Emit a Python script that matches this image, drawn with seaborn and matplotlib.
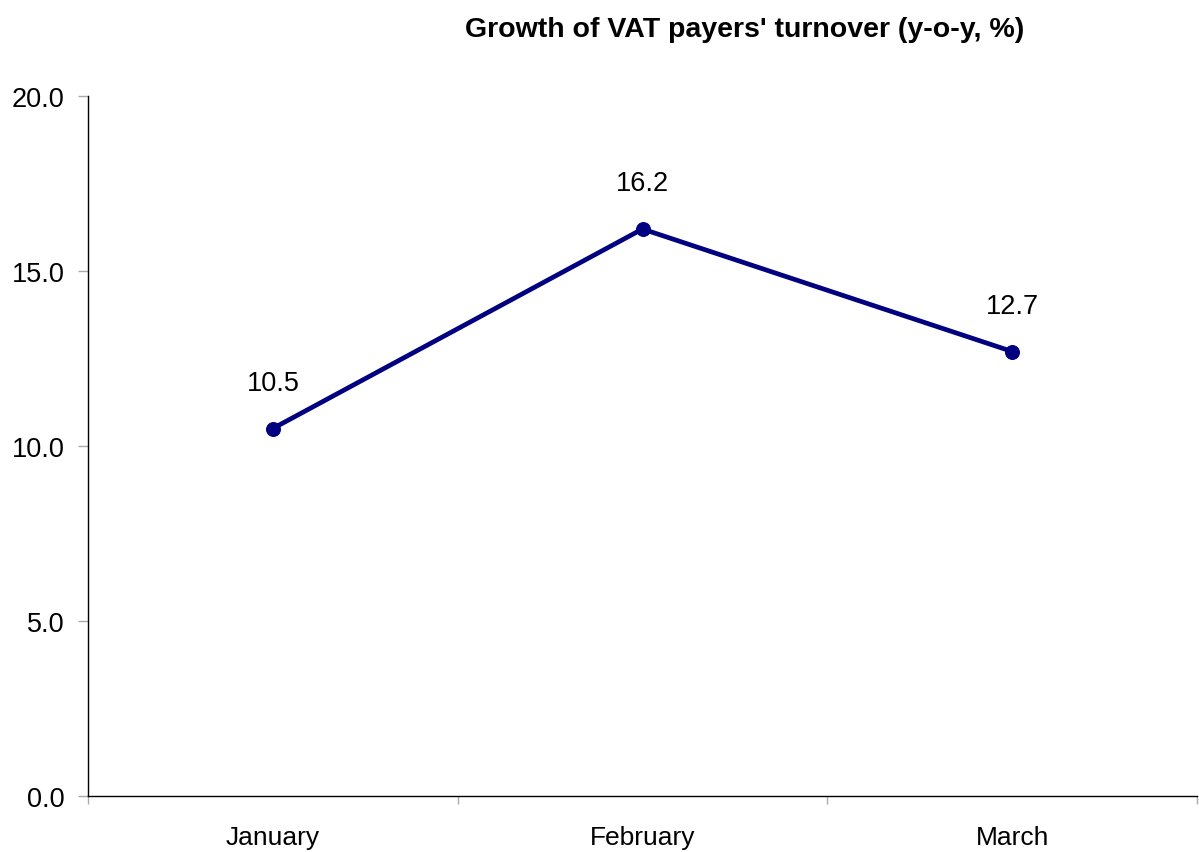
import matplotlib
matplotlib.use("Agg")
import matplotlib.pyplot as plt
import seaborn as sns
import pandas as pd

months = ["January", "February", "March"]
growth = [10.5, 16.2, 12.7]
yticks = [0.0, 5.0, 10.0, 15.0, 20.0]
title = "Growth of VAT payers' turnover (y-o-y, %)"

sns.set_style("white")
plt.rcParams['font.family'] = ['Liberation Sans', 'DejaVu Sans']
plt.rcParams['text.color'] = 'black'
plt.rcParams['xtick.labelcolor'] = 'black'
plt.rcParams['ytick.labelcolor'] = 'black'

df = pd.DataFrame({"month": months, "growth": growth})

fig = plt.figure(figsize=(11.99, 8.53), dpi=100)
ax = fig.add_axes([88/1199, 1-797/853, (1197-88)/1199, (797-97)/853])

x = list(range(len(months)))
sns.lineplot(x=x, y=df["growth"], ax=ax, color="#000080", linewidth=3.4,
             marker="o", markersize=10, markeredgecolor="#000080")

for xi, v in zip(x, growth):
    ax.annotate(f"{v:.1f}", (xi, v), xytext=(0, 33), textcoords="offset points",
                ha="center", va="center", fontsize=19.5, color="black")

ax.set_xlim(-0.5, len(months) - 0.5)
ax.set_ylim(0, 20)
ax.set_yticks(yticks)
ax.set_yticklabels([f"{t:.1f}" for t in yticks], fontsize=19.5)
ax.set_xticks([i - 0.5 for i in range(len(months) + 1)])
ax.set_xticklabels([])
ax.set_xticks(x, minor=True)
ax.set_xticklabels(months, minor=True, fontsize=19)
ax.tick_params(axis="x", which="major", direction="out", length=6, width=1, color="#aaaaaa", bottom=True)
ax.tick_params(axis="x", which="minor", length=0, pad=21)
ax.tick_params(axis="y", direction="out", length=7, width=1, color="#aaaaaa", left=True, pad=10)
ax.set_xlabel("")
ax.set_ylabel("")

for s in ["top", "right"]:
    ax.spines[s].set_visible(False)
for s in ["left", "bottom"]:
    ax.spines[s].set_color("black")
    ax.spines[s].set_linewidth(1)

fig.text(745/1199, 1-30/853, title, ha="center", va="center", fontsize=20.5, fontweight="bold")

fig.savefig("out.png", dpi=100, facecolor="white")
